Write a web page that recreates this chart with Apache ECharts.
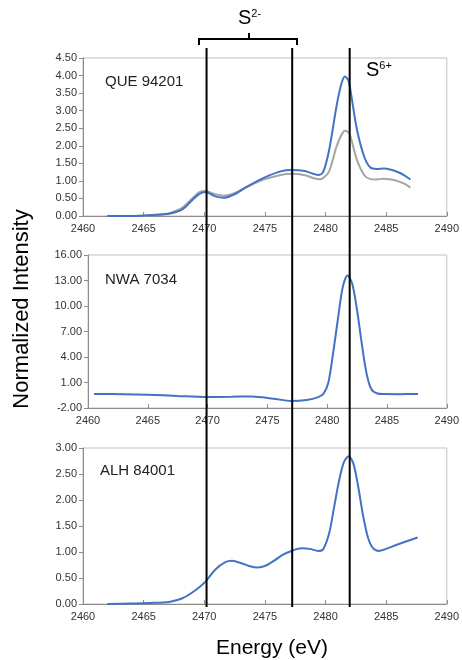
<html>
<head>
<meta charset="utf-8">
<title>S K-edge XANES</title>
<script src="https://cdn.jsdelivr.net/npm/echarts@6/dist/echarts.min.js"></script>
<style>
  body { margin: 0; background: #fff; }
  #chart { width: 462px; height: 660px; }
</style>
</head>
<body>
<div id="chart"></div>
<script>
// QUE 94201 (two spectra)
var queEnergy = [2462, 2464, 2465.5, 2466.5, 2467.2, 2468.2, 2469.0, 2469.6, 2470.1, 2470.9, 2471.6, 2472.5, 2473.6, 2475.0, 2476.3, 2477.2, 2478.3, 2479.4, 2479.8, 2480.3, 2480.9, 2481.3, 2481.6, 2481.9, 2482.1, 2482.6, 2483.2, 2483.7, 2484.2, 2484.8, 2485.4, 2485.9, 2486.5, 2487.0];
var queBlue = [0.00, 0.00, 0.02, 0.04, 0.07, 0.19, 0.45, 0.63, 0.68, 0.56, 0.52, 0.62, 0.85, 1.10, 1.27, 1.31, 1.28, 1.17, 1.25, 1.88, 3.11, 3.75, 3.97, 3.85, 3.49, 2.45, 1.68, 1.38, 1.34, 1.35, 1.32, 1.26, 1.16, 1.04];
var queGray = [0.00, 0.00, 0.02, 0.05, 0.09, 0.24, 0.50, 0.68, 0.71, 0.62, 0.58, 0.65, 0.84, 1.05, 1.17, 1.20, 1.16, 1.05, 1.08, 1.27, 1.97, 2.30, 2.43, 2.38, 2.21, 1.59, 1.16, 1.05, 1.04, 1.06, 1.04, 1.00, 0.92, 0.81];

// NWA 7034
var nwaEnergy = [2460.5, 2463, 2465, 2467.5, 2469.8, 2472, 2473.7, 2475.5, 2477.0, 2478.3, 2479.2, 2479.7, 2480.1, 2480.5, 2480.9, 2481.3, 2481.7, 2482.1, 2482.5, 2482.9, 2483.3, 2483.7, 2484.2, 2484.7, 2486, 2487.6];
var nwaBlue = [-0.35, -0.38, -0.44, -0.58, -0.70, -0.68, -0.64, -0.90, -1.18, -1.05, -0.75, -0.30, 1.0, 4.5, 8.5, 12.2, 13.6, 12.6, 9.5, 5.5, 2.0, 0.2, -0.3, -0.36, -0.37, -0.36];

// ALH 84001
var alhEnergy = [2462, 2464, 2465.5, 2467.1, 2468.2, 2469.3, 2470.1, 2470.9, 2471.7, 2472.3, 2473.0, 2473.7, 2474.4, 2475.1, 2475.8, 2476.5, 2477.2, 2478.0, 2478.7, 2479.4, 2479.8, 2480.3, 2480.7, 2481.1, 2481.5, 2481.9, 2482.3, 2482.7, 2483.1, 2483.5, 2483.9, 2484.4, 2485.0, 2486.0, 2487.6];
var alhBlue = [0.00, 0.01, 0.02, 0.04, 0.11, 0.27, 0.43, 0.66, 0.80, 0.83, 0.79, 0.73, 0.70, 0.74, 0.84, 0.95, 1.02, 1.07, 1.06, 1.02, 1.05, 1.36, 1.85, 2.35, 2.72, 2.84, 2.70, 2.25, 1.70, 1.28, 1.08, 1.02, 1.06, 1.15, 1.28];

// panel names and y axis ranges
var panelNames = ['QUE 94201', 'NWA 7034', 'ALH 84001'];
var yMin = [0, -2, 0];
var yMax = [4.5, 16, 3];
var yStep = [0.5, 3, 0.5];

// reference energies (vertical lines)
var markerEnergies = [2470.1, 2477.1, 2481.8];

function pairs(xs, ys) {
    var out = [];
    for (var i = 0; i < xs.length; i++) out.push([xs[i], ys[i]]);
    return out;
}

var FONT = '"Liberation Sans", Arial, sans-serif';
var grids = [
    { left: 83, width: 367, top: 58, height: 158 },
    { left: 88, width: 362, top: 255, height: 153 },
    { left: 83, width: 367, top: 448, height: 156 },
    { left: 83, width: 367, top: 48, height: 559 } // overlay for the lines
];
grids.forEach(function (g, i) {
    if (i < 3) { g.show = true; g.borderColor = '#c0c0c0'; g.borderWidth = 1; g.backgroundColor = 'transparent'; }
});

var xAxes = [], yAxes = [];
for (var i = 0; i < 3; i++) {
    xAxes.push({
        type: 'value', gridIndex: i, min: 2460, max: 2490, interval: 5,
        axisLine: { onZero: false, lineStyle: { color: '#8c8c8c', width: 1 } },
        axisTick: { inside: true, length: 4, lineStyle: { color: '#8c8c8c' } },
        axisLabel: { color: '#333', fontSize: 11, fontFamily: FONT, margin: 7,
            formatter: function (v) { return String(v); } },
        splitLine: { show: false }
    });
    yAxes.push({
        type: 'value', gridIndex: i, min: yMin[i], max: yMax[i], interval: yStep[i],
        axisLine: { show: true, onZero: false, lineStyle: { color: '#8c8c8c', width: 1 } },
        axisTick: { show: true, length: 4, lineStyle: { color: '#8c8c8c' } },
        axisLabel: { color: '#333', fontSize: 11, fontFamily: FONT, margin: 6,
            formatter: function (v) { return v.toFixed(2); } },
        splitLine: { show: false }
    });
}
xAxes.push({ type: 'value', gridIndex: 3, min: 2460, max: 2490, show: false });
yAxes.push({ type: 'value', gridIndex: 3, min: 0, max: 1, show: false });

var series = [
    { type: 'line', xAxisIndex: 0, yAxisIndex: 0, data: pairs(queEnergy, queGray), smooth: 0.3,
      showSymbol: false, lineStyle: { color: '#a5a5a5', width: 2 }, z: 2 },
    { type: 'line', xAxisIndex: 0, yAxisIndex: 0, data: pairs(queEnergy, queBlue), smooth: 0.3,
      showSymbol: false, lineStyle: { color: '#4472c4', width: 2 }, z: 3 },
    { type: 'line', xAxisIndex: 1, yAxisIndex: 1, data: pairs(nwaEnergy, nwaBlue), smooth: 0.3,
      showSymbol: false, lineStyle: { color: '#4472c4', width: 2 }, z: 3 },
    { type: 'line', xAxisIndex: 2, yAxisIndex: 2, data: pairs(alhEnergy, alhBlue), smooth: 0.3,
      showSymbol: false, lineStyle: { color: '#4472c4', width: 2 }, z: 3 }
];
markerEnergies.forEach(function (e) {
    series.push({ type: 'line', xAxisIndex: 3, yAxisIndex: 3, data: [[e, 0], [e, 1]],
        showSymbol: false, silent: true, lineStyle: { color: '#000', width: 2 }, z: 10 });
});

var panelTextY = [82, 280, 471];
var panelTextX = [105, 105, 100];
var graphic = [
    // S2- bracket
    { type: 'polyline', shape: { points: [[199, 45], [199, 39], [297, 39], [297, 45]] },
      style: { stroke: '#000', lineWidth: 2, fill: null } },
    { type: 'line', shape: { x1: 249, y1: 39, x2: 249, y2: 33 }, style: { stroke: '#000', lineWidth: 2 } },
    { type: 'text', x: 238, y: 28, style: { text: '{m|S}{p|2-}', verticalAlign: 'bottom',
        rich: { m: { fontSize: 20, fontFamily: FONT, fill: '#000' },
                p: { fontSize: 11, fontFamily: FONT, fill: '#000', verticalAlign: 'top', padding: [0, 0, 8, 0] } } } },
    { type: 'text', x: 366, y: 80, style: { text: '{m|S}{p|6+}', verticalAlign: 'bottom',
        rich: { m: { fontSize: 20, fontFamily: FONT, fill: '#000' },
                p: { fontSize: 11, fontFamily: FONT, fill: '#000', verticalAlign: 'top', padding: [0, 0, 8, 0] } } } },
    // axis titles
    { type: 'text', x: 22, y: 309, rotation: Math.PI / 2,
      style: { text: 'Normalized Intensity', fontSize: 22, fontFamily: FONT, fill: '#000', align: 'center', verticalAlign: 'middle' } },
    { type: 'text', x: 272, y: 648,
      style: { text: 'Energy (eV)', fontSize: 21, fontFamily: FONT, fill: '#000', align: 'center', verticalAlign: 'middle' } }
];
panelNames.forEach(function (n, i) {
    graphic.push({ type: 'text', x: panelTextX[i], y: panelTextY[i],
        style: { text: n, fontSize: 15, fontFamily: FONT, fill: '#222', verticalAlign: 'middle' } });
});

var chart = echarts.init(document.getElementById('chart'), null, { renderer: 'canvas' });
chart.setOption({
    animation: false,
    backgroundColor: '#fff',
    grid: grids,
    xAxis: xAxes,
    yAxis: yAxes,
    series: series,
    graphic: graphic
});
</script>
</body>
</html>
